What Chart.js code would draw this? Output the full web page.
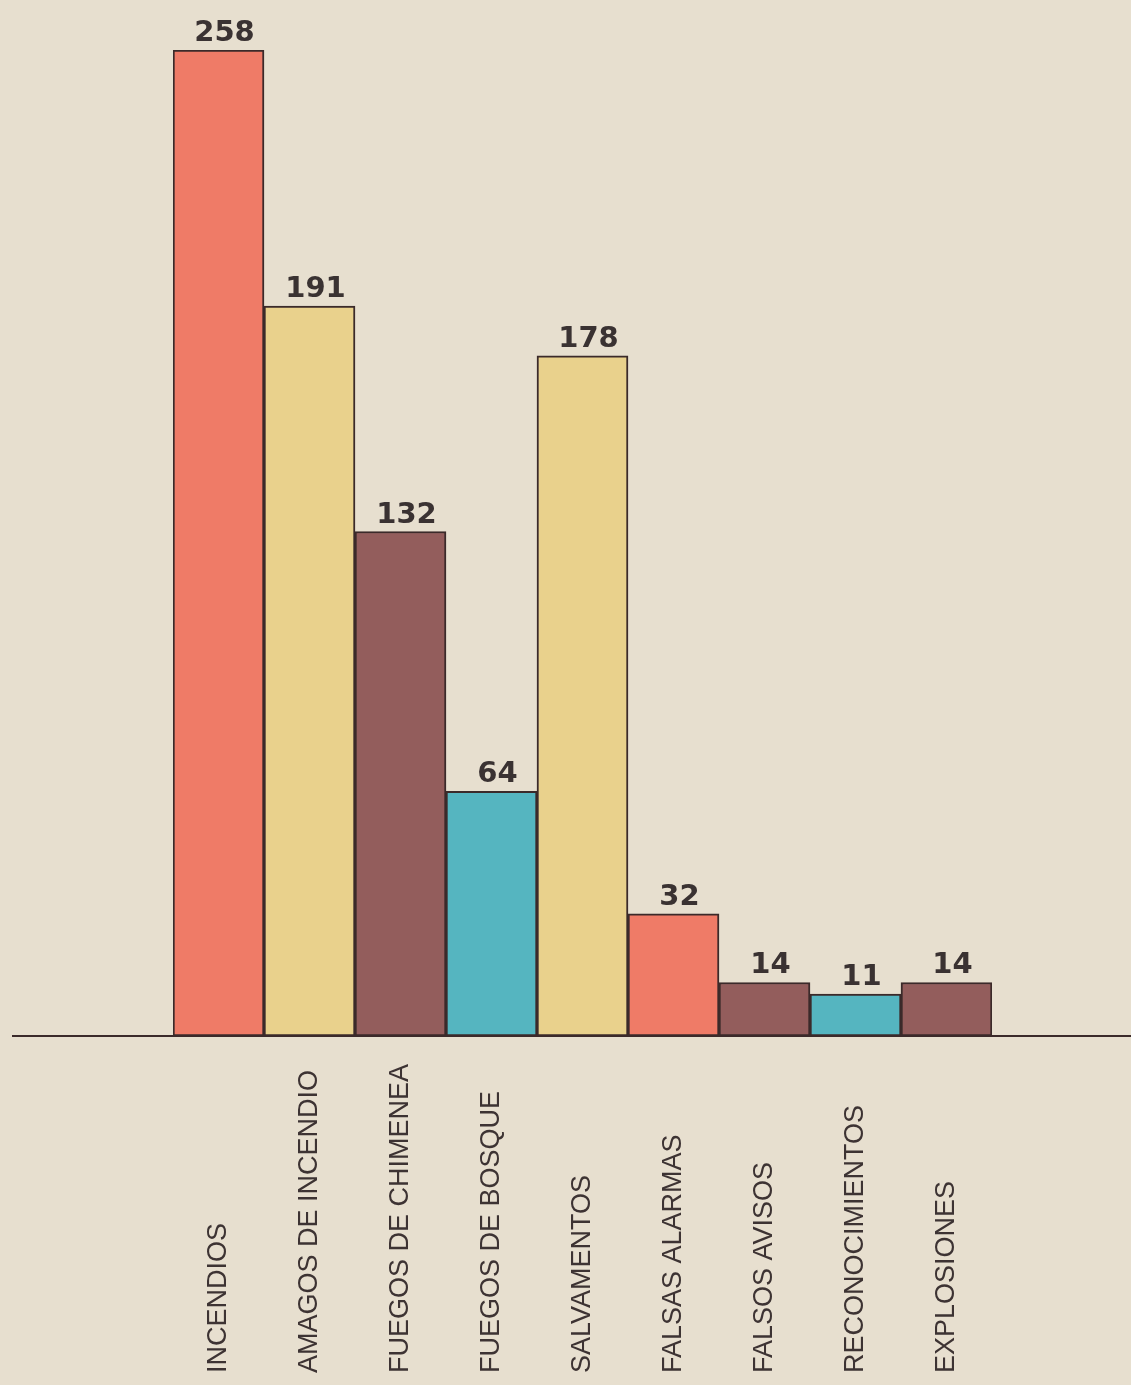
<!DOCTYPE html>
<html>
<head>
<meta charset="utf-8">
<script src="https://cdn.jsdelivr.net/npm/chart.js@4/dist/chart.umd.min.js"></script>
<style>
  html, body { margin: 0; padding: 0; background: #e7dfcf; }
  #wrap { width: 1131px; height: 1385px; position: relative; }
</style>
</head>
<body>
<div id="wrap"><canvas id="c" width="1131" height="1385"></canvas></div>
<script>
const categories = ["INCENDIOS", "AMAGOS DE INCENDIO", "FUEGOS DE CHIMENEA", "FUEGOS DE BOSQUE",
  "SALVAMENTOS", "FALSAS ALARMAS", "FALSOS AVISOS", "RECONOCIMIENTOS", "EXPLOSIONES"];
const values = [258, 191, 132, 64, 178, 32, 14, 11, 14];
const barColors = ["#ef7b67", "#e9d18c", "#935d5c", "#55b5c0", "#e9d18c", "#ef7b67", "#935d5c", "#55b5c0", "#935d5c"];

const ink = "#3b2a2a";

const overlay = {
  id: "overlay",
  afterDraw(chart) {
    const ctx = chart.ctx;
    const xs = chart.scales.x, ys = chart.scales.y;
    const y0 = ys.getPixelForValue(0);
    ctx.save();
    // baseline
    ctx.strokeStyle = ink;
    ctx.lineWidth = 2;
    ctx.beginPath();
    ctx.moveTo(12, y0);
    ctx.lineTo(chart.width, y0);
    ctx.stroke();
    // value labels
    ctx.fillStyle = "#3a3232";
    ctx.font = "bold 29px 'DejaVu Sans'";
    ctx.textAlign = "center";
    ctx.textBaseline = "alphabetic";
    values.forEach((v, i) => {
      const x = xs.getPixelForValue(i);
      const y = ys.getPixelForValue(v);
      ctx.fillText(String(v), x + 6, y - 9);
    });
    // category labels (rotated, bottom-aligned)
    ctx.font = "27px 'Liberation Sans'";
    ctx.fillStyle = "#3d3333";
    ctx.textAlign = "left";
    const cap = 27 * 0.716;
    categories.forEach((c, i) => {
      const x = xs.getPixelForValue(i);
      ctx.save();
      ctx.translate(x + cap / 2 - 2, chart.height - 12);
      ctx.rotate(-Math.PI / 2);
      ctx.fillText(c, 0, 0);
      ctx.restore();
    });
    ctx.restore();
  }
};

new Chart(document.getElementById("c"), {
  type: "bar",
  data: {
    labels: categories,
    datasets: [{
      data: values,
      backgroundColor: barColors,
      borderColor: ink,
      borderWidth: 2,
      borderSkipped: false,
      barPercentage: 1,
      categoryPercentage: 1
    }]
  },
  options: {
    responsive: false,
    animation: false,
    layout: { padding: { left: 173, right: 139, top: 50, bottom: 349 } },
    plugins: { legend: { display: false }, tooltip: { enabled: false } },
    scales: {
      x: { display: false, offset: true },
      y: { display: false, min: 0, max: 258 }
    }
  },
  plugins: [overlay]
});
</script>
</body>
</html>
